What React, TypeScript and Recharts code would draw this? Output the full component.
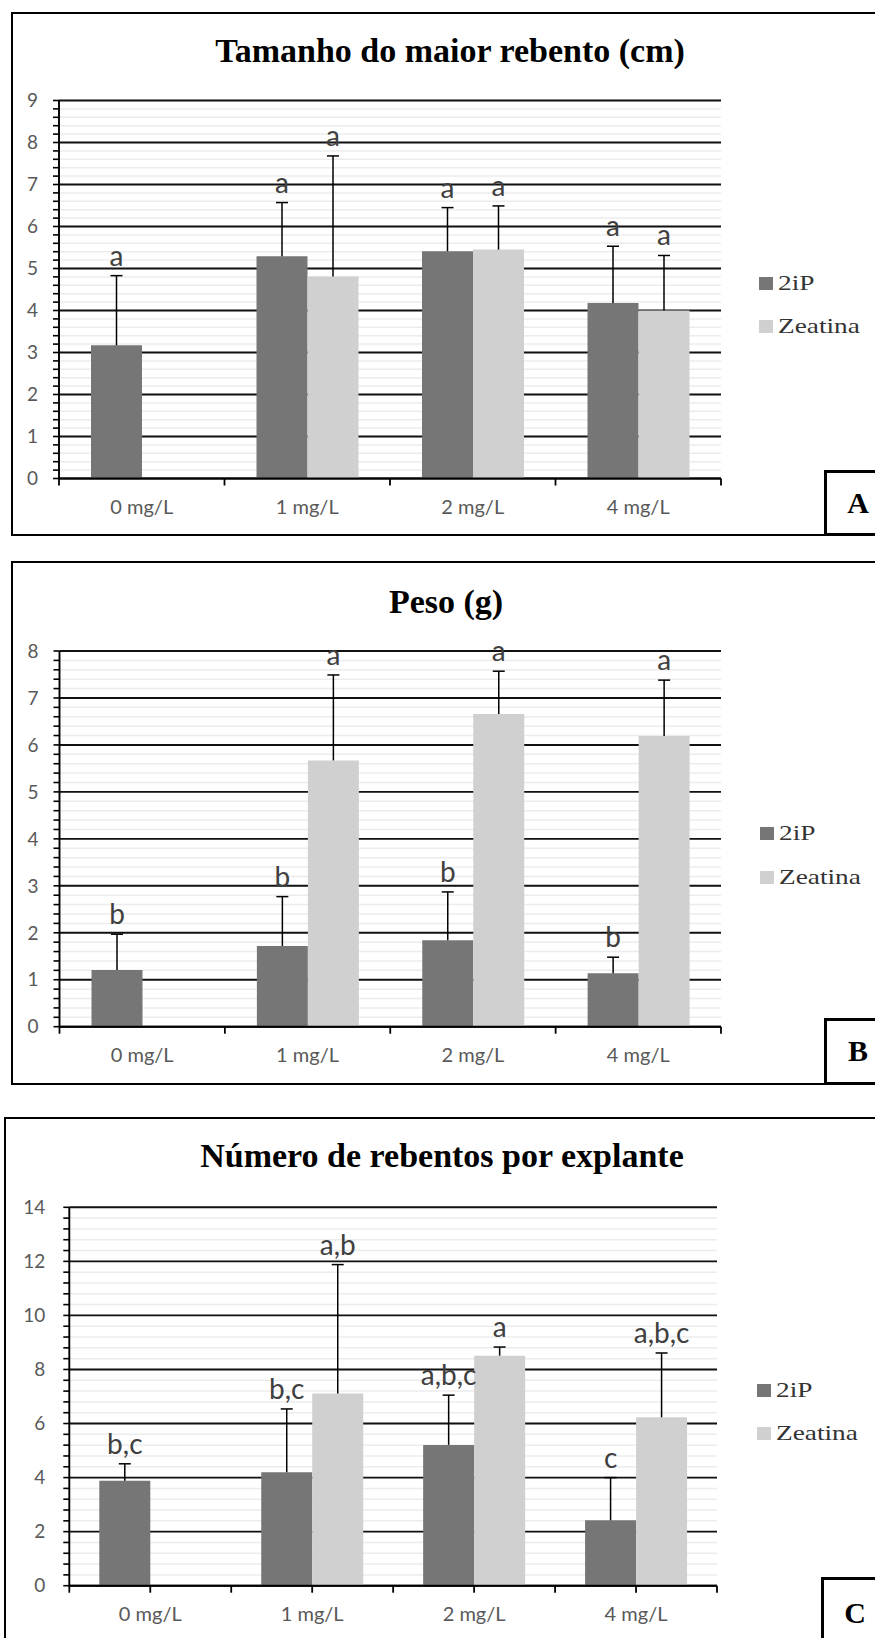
import React from 'react';
import { Bar, BarChart, CartesianGrid, XAxis, YAxis } from 'recharts';

const categories = ['0 mg/L', '1 mg/L', '2 mg/L', '4 mg/L'];
const seriesNames = ['2iP', 'Zeatina'];

// A — Tamanho do maior rebento (cm)
const tamanho2iP = [3.17, 5.29, 5.41, 4.18];
const tamanho2iPErr = [1.66, 1.28, 1.04, 1.35];
const tamanho2iPLetters = ['a', 'a', 'a', 'a'];
const tamanhoZeatina = [null, 4.81, 5.45, 4.0];
const tamanhoZeatinaErr = [null, 2.87, 1.04, 1.31];
const tamanhoZeatinaLetters = [null, 'a', 'a', 'a'];
const tamanhoTicks = [0, 1, 2, 3, 4, 5, 6, 7, 8, 9];

// B — Peso (g)
const peso2iP = [1.21, 1.72, 1.84, 1.14];
const peso2iPErr = [0.76, 1.05, 1.03, 0.34];
const peso2iPLetters = ['b', 'b', 'b', 'b'];
const pesoZeatina = [null, 5.67, 6.66, 6.19];
const pesoZeatinaErr = [null, 1.82, 0.91, 1.19];
const pesoZeatinaLetters = [null, 'a', 'a', 'a'];
const pesoTicks = [0, 1, 2, 3, 4, 5, 6, 7, 8];

// C — Número de rebentos por explante
const numero2iP = [3.88, 4.2, 5.21, 2.42];
const numero2iPErr = [0.63, 2.34, 1.84, 1.58];
const numero2iPLetters = ['b,c', 'b,c', 'a,b,c', 'c'];
const numeroZeatina = [null, 7.11, 8.51, 6.23];
const numeroZeatinaErr = [null, 4.77, 0.32, 2.38];
const numeroZeatinaLetters = [null, 'a,b', 'a', 'a,b,c'];
const numeroTicks = [0, 2, 4, 6, 8, 10, 12, 14];

const DARK = '#767676';
const LIGHT = '#d0d0d0';
const SANS = 'Lato, "Open Sans", sans-serif';
const SERIF = '"Liberation Serif", "Times New Roman", serif';

// five minor steps between each pair of labelled ticks
function minorTicks(major: number[]) {
  const out: number[] = [];
  for (let i = 0; i < major.length - 1; i++) {
    const step = (major[i + 1] - major[i]) / 5;
    for (let k = 0; k < 5; k++) out.push(Math.round((major[i] + k * step) * 1000) / 1000);
  }
  out.push(major[major.length - 1]);
  return out;
}

// error bar (upper side only) + significance letters, placed from the bar's own geometry
function makeErrLabel(values: (number | null)[], errs: (number | null)[], letters: (string | null)[]) {
  return (props: any) => {
    const vb = props.viewBox || props;
    const x = Number(vb.x ?? props.x);
    const y = Number(vb.y ?? props.y);
    const w = Number(vb.width ?? props.width);
    const h = Number(vb.height ?? props.height);
    // index skips null bars, so look the bar up by its value
    let idx = values.indexOf(Number(props.value));
    if (idx < 0) idx = props.index;
    const v = values[idx];
    const e = errs[idx];
    if (v == null || e == null || !isFinite(h) || h <= 0) return null;
    const pxPerUnit = h / v;
    const cx = x + w / 2;
    const top = y - e * pxPerUnit;
    return (
      <g key={`err-${idx}-${x}`}>
        <line x1={cx} x2={cx} y1={y} y2={top} stroke="#000" strokeWidth={1.5} />
        <line x1={cx - 6} x2={cx + 6} y1={top} y2={top} stroke="#000" strokeWidth={1.5} />
        <text
          x={cx}
          y={top - 10}
          textAnchor="middle"
          fontFamily={SANS}
          fontSize={28}
          fill="#404040"
        >
          {letters[idx]}
        </text>
      </g>
    );
  };
}

function makeXTick(band: number, centerTicks: boolean, last: number) {
  return (props: any) => {
    const { x, y, payload, index } = props;
    return (
      <g>
        <line x1={x - band / 2} x2={x - band / 2} y1={y} y2={y + 7} stroke="#000" strokeWidth={1.8} />
        {index === last && (
          <line x1={x + band / 2} x2={x + band / 2} y1={y} y2={y + 7} stroke="#000" strokeWidth={1.8} />
        )}
        {centerTicks && <line x1={x} x2={x} y1={y} y2={y + 7} stroke="#000" strokeWidth={1.8} />}
        <text x={x} y={y + 35} textAnchor="middle" fontFamily={SANS} fontSize={20} fill="#595959">
          {payload.value}
        </text>
      </g>
    );
  };
}

interface PanelProps {
  title: string;
  titleX: number;
  titleBaseline: number;
  border: { left: number; top: number; height: number };
  chartTop: number;
  chartHeight: number;
  margin: { top: number; right: number; bottom: number; left: number };
  ticks: number[];
  tickMargin: number;
  centerTicks: boolean;
  s1: (number | null)[];
  e1: (number | null)[];
  l1: (string | null)[];
  s2: (number | null)[];
  e2: (number | null)[];
  l2: (string | null)[];
  legendLeft: number;
  legendTops: number[];
  box: { left: number; top: number; height: number };
  boxLetter: string;
  boxBaseline: number;
}

function Panel(p: PanelProps) {
  const data = categories.map((c, i) => ({ cat: c, a: p.s1[i], b: p.s2[i] }));
  const width = 875;
  const plotW = width - p.margin.left - 40 - p.margin.right;
  const band = plotW / categories.length;
  const minors = minorTicks(p.ticks);
  return (
    <>
      <div
        style={{
          position: 'absolute',
          left: p.border.left,
          top: p.border.top,
          width: 900,
          height: p.border.height,
          border: '2px solid #000',
          boxSizing: 'border-box',
        }}
      />
      <div
        style={{
          position: 'absolute',
          left: p.titleX - 300,
          width: 600,
          top: p.titleBaseline - 28.5,
          lineHeight: '34px',
          fontSize: 34,
          fontWeight: 'bold',
          fontFamily: SERIF,
          textAlign: 'center',
          color: '#000',
          whiteSpace: 'nowrap',
        }}
      >
        {p.title}
      </div>
      <div style={{ position: 'absolute', left: 0, top: p.chartTop }}>
        <BarChart width={width} height={p.chartHeight} data={data} margin={p.margin} barGap={0}>
          <CartesianGrid vertical={false} horizontalValues={minors} stroke="#ececec" strokeWidth={1.5} />
          <CartesianGrid vertical={false} horizontalValues={p.ticks} stroke="#111" strokeWidth={1.9} />
          <XAxis
            dataKey="cat"
            interval={0}
            height={40}
            tickSize={0}
            tickMargin={0}
            tickLine={false}
            axisLine={{ stroke: '#000', strokeWidth: 1.9 }}
            tick={makeXTick(band, p.centerTicks, categories.length - 1)}
          />
          <YAxis
            type="number"
            width={40}
            domain={[p.ticks[0], p.ticks[p.ticks.length - 1]]}
            ticks={minors}
            interval={0}
            tickSize={6}
            tickMargin={p.tickMargin}
            tickFormatter={(v: number) => (p.ticks.includes(v) ? String(v) : '')}
            tickLine={{ stroke: '#000', strokeWidth: 1.6 }}
            axisLine={{ stroke: '#000', strokeWidth: 1.9 }}
            tick={{ fontFamily: SANS, fontSize: 19, fill: '#595959' }}
          />
          <Bar
            dataKey="a"
            name={seriesNames[0]}
            fill={DARK}
            barSize={51}
            isAnimationActive={false}
            label={makeErrLabel(p.s1, p.e1, p.l1)}
          />
          <Bar
            dataKey="b"
            name={seriesNames[1]}
            fill={LIGHT}
            barSize={51}
            isAnimationActive={false}
            label={makeErrLabel(p.s2, p.e2, p.l2)}
          />
        </BarChart>
      </div>
      {seriesNames.map((name, i) => (
        <div key={name}>
          <div
            style={{
              position: 'absolute',
              left: p.legendLeft,
              top: p.legendTops[i],
              width: 14,
              height: 13,
              background: i === 0 ? DARK : LIGHT,
            }}
          />
          <div
            style={{
              position: 'absolute',
              left: p.legendLeft + 19,
              top: p.legendTops[i] + 14 - 17.6,
              lineHeight: '21px',
              fontSize: 21,
              fontFamily: SERIF,
              color: '#333',
              whiteSpace: 'nowrap',
              transform: 'scaleX(1.3)',
              transformOrigin: '0 0',
            }}
          >
            {name}
          </div>
        </div>
      ))}
      <div
        style={{
          position: 'absolute',
          left: p.box.left,
          top: p.box.top,
          width: 80,
          height: p.box.height,
          border: '3px solid #000',
          boxSizing: 'border-box',
          background: '#fff',
        }}
      />
      <div
        style={{
          position: 'absolute',
          left: p.box.left,
          width: 68,
          top: p.boxBaseline - 25,
          lineHeight: '30px',
          fontSize: 30,
          fontWeight: 'bold',
          fontFamily: SERIF,
          textAlign: 'center',
          color: '#000',
        }}
      >
        {p.boxLetter}
      </div>
    </>
  );
}

export default function App() {
  return (
    <div
      style={{
        position: 'absolute',
        left: 0,
        top: 0,
        width: 875,
        height: 1638,
        overflow: 'hidden',
        background: '#fff',
      }}
    >
      <Panel
        title="Tamanho do maior rebento (cm)"
        titleX={450}
        titleBaseline={62}
        border={{ left: 11, top: 12, height: 524 }}
        chartTop={0}
        chartHeight={540}
        margin={{ top: 100.5, right: 154, bottom: 21.5, left: 19 }}
        ticks={tamanhoTicks}
        tickMargin={15}
        centerTicks={false}
        s1={tamanho2iP}
        e1={tamanho2iPErr}
        l1={tamanho2iPLetters}
        s2={tamanhoZeatina}
        e2={tamanhoZeatinaErr}
        l2={tamanhoZeatinaLetters}
        legendLeft={759}
        legendTops={[277, 320]}
        box={{ left: 824, top: 470, height: 66 }}
        boxLetter="A"
        boxBaseline={513}
      />
      <Panel
        title="Peso (g)"
        titleX={446}
        titleBaseline={613}
        border={{ left: 11, top: 561, height: 524 }}
        chartTop={545}
        chartHeight={545}
        margin={{ top: 106, right: 154, bottom: 23.3, left: 19.5 }}
        ticks={pesoTicks}
        tickMargin={15}
        centerTicks={false}
        s1={peso2iP}
        e1={peso2iPErr}
        l1={peso2iPLetters}
        s2={pesoZeatina}
        e2={pesoZeatinaErr}
        l2={pesoZeatinaLetters}
        legendLeft={760}
        legendTops={[827, 871]}
        box={{ left: 824, top: 1018, height: 67 }}
        boxLetter="B"
        boxBaseline={1061}
      />
      <Panel
        title="Número de rebentos por explante"
        titleX={442}
        titleBaseline={1167}
        border={{ left: 4, top: 1117, height: 600 }}
        chartTop={1110}
        chartHeight={528}
        margin={{ top: 97.3, right: 158, bottom: 12.3, left: 29.3 }}
        ticks={numeroTicks}
        tickMargin={18}
        centerTicks={true}
        s1={numero2iP}
        e1={numero2iPErr}
        l1={numero2iPLetters}
        s2={numeroZeatina}
        e2={numeroZeatinaErr}
        l2={numeroZeatinaLetters}
        legendLeft={757}
        legendTops={[1384, 1427]}
        box={{ left: 821, top: 1577, height: 100 }}
        boxLetter="C"
        boxBaseline={1623}
      />
    </div>
  );
}
